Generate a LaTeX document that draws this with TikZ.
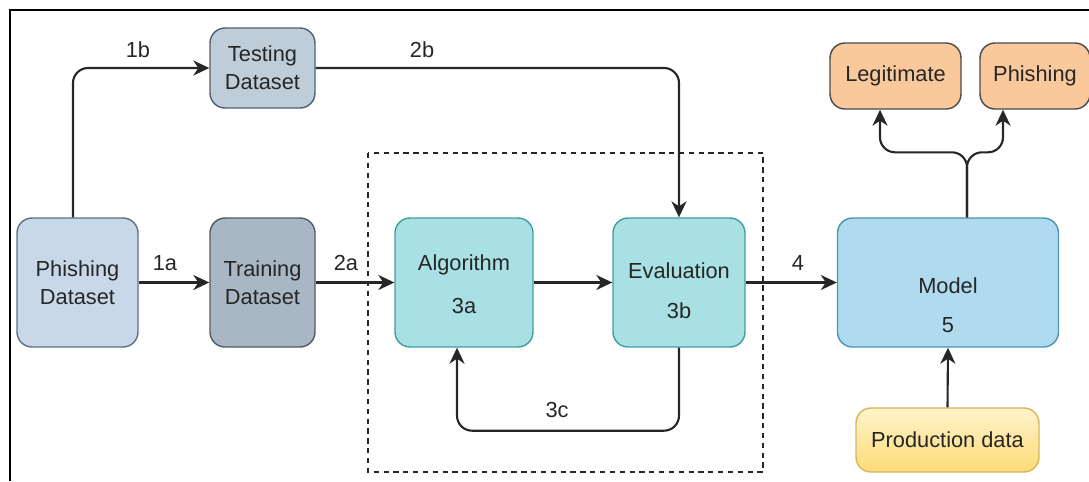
\documentclass[tikz,border=0pt]{standalone}
\usepackage{fontspec}
\setmainfont{Liberation Sans}
\usepackage{xcolor}
\usetikzlibrary{calc, arrows.meta}

\definecolor{txtgray}{HTML}{262626}
\definecolor{phishfill}{HTML}{C8D8E9}
\definecolor{phishdraw}{HTML}{5B7085}
\definecolor{testfill}{HTML}{BFCDD9}
\definecolor{testdraw}{HTML}{4F5F6D}
\definecolor{trainfill}{HTML}{A9B6C3}
\definecolor{traindraw}{HTML}{4F5B66}
\definecolor{algfill}{HTML}{A9E0E4}
\definecolor{algdraw}{HTML}{3C9EA2}
\definecolor{modelfill}{HTML}{B0DBEF}
\definecolor{modeldraw}{HTML}{4A93B5}
\definecolor{prodtop}{HTML}{FFF3CB}
\definecolor{prodbot}{HTML}{FDDB78}
\definecolor{proddraw}{HTML}{D9B65C}
\definecolor{outfill}{HTML}{F9C89B}
\definecolor{outdraw}{HTML}{4A4A4A}

\tikzset{
    box/.style={rectangle, rounded corners=0.3cm, draw, line width=0.8pt, text=txtgray,
        align=center, inner sep=0pt, font=\fontsize{12.4}{16}\selectfont},
    link/.style={-{Stealth[length=0.32cm, width=0.3cm, inset=0.1cm]}, line width=1.2pt, draw=txtgray,
        rounded corners=0.3cm},
    lbl/.style={text=txtgray, align=center, font=\fontsize{12.4}{16}\selectfont}
}

\begin{document}
\begin{tikzpicture}[x=0.02cm, y=-0.02cm]

        \useasboundingbox (0,0) rectangle (1089,481);

        %% Frame
        \draw [line width=0.9pt] (1089,10) -- (10,10) -- (10,481);

        %% Datasets
        \node (phish) [box, fill=phishfill, draw=phishdraw, minimum width=2.42cm, minimum height=2.58cm] at (77.5,282.5) {Phishing\\Dataset};
        \node (test) [box, fill=testfill, draw=testdraw, minimum width=2.1cm, minimum height=1.6cm] at (262.5,68) {Testing\\Dataset};
        \node (train) [box, fill=trainfill, draw=traindraw, minimum width=2.1cm, minimum height=2.58cm] at (262.5,282.5) {Training\\Dataset};

        %% Training loop
        \draw [dash pattern=on 3pt off 2.6pt, line width=1.2pt, draw=txtgray] (368,153) rectangle (763,472);
        \node (alg) [box, fill=algfill, draw=algdraw, minimum width=2.76cm, minimum height=2.58cm] at (464,282.5) {};
        \node (algtext) [lbl] at (464,284.5) {Algorithm\\[8.5pt]3a};
        \node (eval) [box, fill=algfill, draw=algdraw, minimum width=2.64cm, minimum height=2.58cm] at (679,282.5) {};
        \node (evaltext) [lbl] at (679,290.5) {Evaluation\\[7pt]3b};

        %% Model and outputs
        \node (model) [box, fill=modelfill, draw=modeldraw, minimum width=4.42cm, minimum height=2.58cm] at (948,282.5) {};
        \node (modeltext) [lbl] at (948,305) {Model\\[6.5pt]5};
        \node (prod) [box, top color=prodtop, bottom color=prodbot, draw=proddraw, minimum width=3.66cm, minimum height=1.28cm] at (947.5,440) {Production data};
        \node (legit) [box, fill=outfill, draw=outdraw, minimum width=2.62cm, minimum height=1.32cm] at (895.5,76) {Legitimate};
        \node (phishout) [box, fill=outfill, draw=outdraw, minimum width=2.2cm, minimum height=1.32cm] at (1035,76) {Phishing};

        %% Arrows
        \draw [link] ([xshift=-0.09cm]phish.north) |- (test.west);
        \draw [link] (phish.east) -- (train.west);
        \draw [link] (train.east) -- (alg.west);
        \draw [link] (test.east) -| (eval.north);
        \draw [link] (alg.east) -- (eval.west);
        \draw [link] (eval.south) -- ++(0,83) -| ([xshift=-0.14cm]alg.south);
        \draw [link] (eval.east) -- (model.west);
        \draw [link] (prod.north) -- (model.south);

        %% Fork to the classes
        \coordinate (fork) at ($(model.north)+(19,-65)$);
        \draw [link] ([xshift=0.38cm]model.north) -- (fork) -| ([xshift=-0.31cm]legit.south);
        \draw [link] ([xshift=0.38cm]model.north) -- (fork) -| ([xshift=-0.64cm]phishout.south);

        %% Step labels
        \node (l1b) [lbl] at (138,50) {1b};
        \node (l1a) [lbl] at (165,263) {1a};
        \node (l2a) [lbl] at (346,263) {2a};
        \node (l2b) [lbl] at (422,50) {2b};
        \node (l3c) [lbl] at (557,410) {3c};
        \node (l4) [lbl] at (798,263) {4};

    \end{tikzpicture}
\end{document}
